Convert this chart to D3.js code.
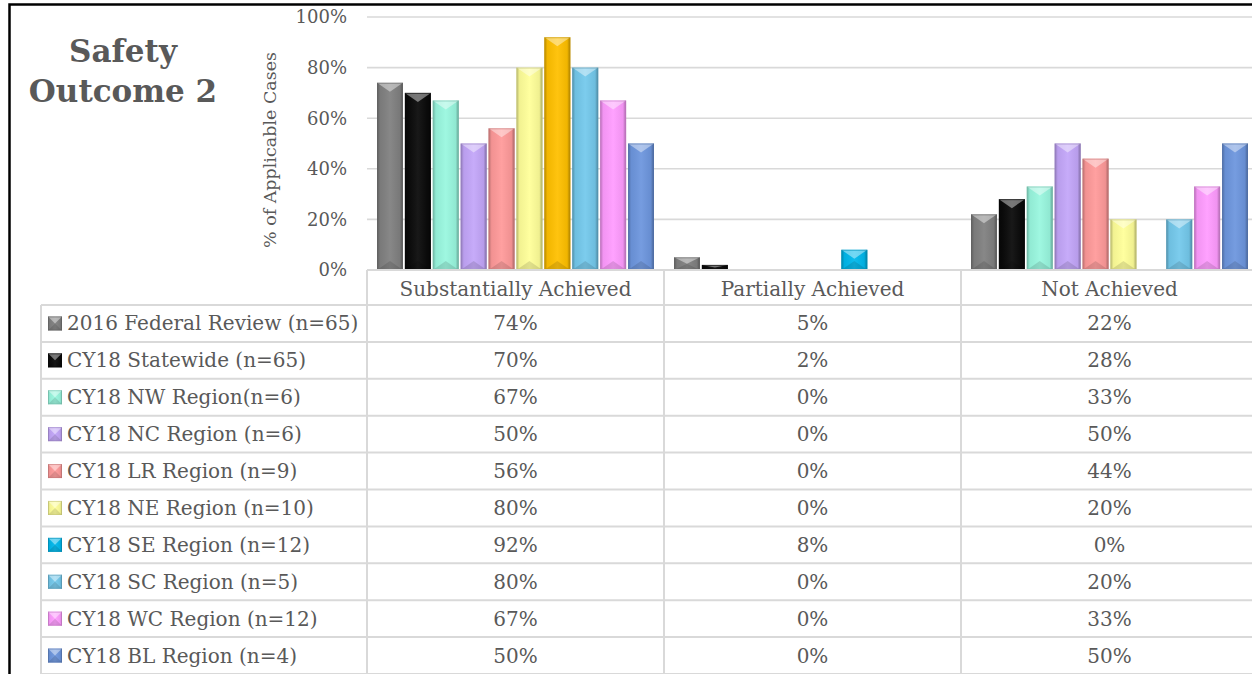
<!DOCTYPE html>
<html><head><meta charset="utf-8">
<script src="https://cdn.jsdelivr.net/npm/d3@7"></script>
<style>
html,body{margin:0;padding:0;background:#fff;}
svg{display:block;}
text{font-family:"DejaVu Serif",Cambria,serif;fill:#595959;}
</style></head>
<body>
<svg id="chart" width="1252" height="674"></svg>
<script>
const categories = ["Substantially Achieved", "Partially Achieved", "Not Achieved"];
const seriesNames = ["2016 Federal Review (n=65)", "CY18 Statewide (n=65)", "CY18 NW Region(n=6)", "CY18 NC Region (n=6)", "CY18 LR Region (n=9)", "CY18 NE Region (n=10)", "CY18 SE Region (n=12)", "CY18 SC Region (n=5)", "CY18 WC Region (n=12)", "CY18 BL Region (n=4)"];
const substantially = [74, 70, 67, 50, 56, 80, 92, 80, 67, 50];
const partially = [5, 2, 0, 0, 0, 0, 8, 0, 0, 0];
const notAchieved = [22, 28, 33, 50, 44, 20, 0, 20, 33, 50];
const seriesColors = ["#808080", "#0a0a0a", "#99f7df", "#c3a6f9", "#ff9a9a", "#ffff99", "#00b8ec", "#74c9ec", "#ff9cff", "#6d96de"];
// point override: SE bar in "Substantially Achieved" is gold
const pointOverrides = [{series: 6, category: 0, color: "#ffc000"}];
const yTicks = [0, 20, 40, 60, 80, 100];
const title = ["Safety", "Outcome 2"];
const yTitle = "% of Applicable Cases";

const valuesByCat = [substantially, partially, notAchieved];

const svg = d3.select("#chart");
const plotLeft = 367, plotRight = 1258, plotTop = 17, plotBottom = 270;
const tableTop = 305, rowH = 36.9;

const x0 = d3.scaleBand().domain(categories).range([plotLeft, plotRight]).padding(0);
const x1 = d3.scaleBand().domain(seriesNames).range([10, x0.bandwidth() - 10]).paddingInner(0.07).paddingOuter(0);
const y = d3.scaleLinear().domain([0, 100]).range([plotBottom, plotTop]);
const rowY = d3.scaleBand().domain(seriesNames).range([tableTop, tableTop + rowH * seriesNames.length]);

const defs = svg.append("defs");
const shade = defs.append("linearGradient").attr("id", "shade").attr("x1", 0).attr("x2", 1).attr("y1", 0).attr("y2", 0);
shade.append("stop").attr("offset", 0).attr("stop-color", "#000").attr("stop-opacity", 0.28);
shade.append("stop").attr("offset", 0.12).attr("stop-color", "#000").attr("stop-opacity", 0.05);
shade.append("stop").attr("offset", 0.5).attr("stop-color", "#fff").attr("stop-opacity", 0.06);
shade.append("stop").attr("offset", 0.88).attr("stop-color", "#000").attr("stop-opacity", 0.06);
shade.append("stop").attr("offset", 1).attr("stop-color", "#000").attr("stop-opacity", 0.35);

function bevel(g, x, yTop, w, h, color) {
  if (h <= 0) return;
  const c = d3.color(color);
  g.append("rect").attr("x", x).attr("y", yTop).attr("width", w).attr("height", h)
    .attr("fill", color);
  g.append("rect").attr("x", x).attr("y", yTop).attr("width", w).attr("height", h)
    .attr("fill", "url(#shade)");
  const th = Math.min(9, h / 2);
  const xm = x + w / 2;
  g.append("polygon").attr("points", `${x},${yTop} ${x + w},${yTop} ${xm},${yTop + th}`)
    .attr("fill", "#fff").attr("fill-opacity", 0.42);
  g.append("polygon").attr("points", `${x},${yTop + h} ${x + w},${yTop + h} ${xm},${yTop + h - th}`)
    .attr("fill", "#000").attr("fill-opacity", 0.12);
  g.append("rect").attr("x", x + 0.5).attr("y", yTop + 0.5).attr("width", w - 1).attr("height", h - 1)
    .attr("fill", "none").attr("stroke", c.darker(0.7)).attr("stroke-opacity", 0.6).attr("stroke-width", 1);
}

// gridlines
svg.append("g").selectAll("line").data(yTicks.filter(d => d > 0)).join("line")
  .attr("x1", plotLeft).attr("x2", plotRight)
  .attr("y1", d => y(d)).attr("y2", d => y(d))
  .attr("stroke", "#d9d9d9").attr("stroke-width", 1.6);

// y axis tick labels
svg.append("g").selectAll("text").data(yTicks).join("text")
  .attr("x", 347).attr("y", d => y(d)).attr("dy", "0.35em")
  .attr("text-anchor", "end").style("font-size", "18px")
  .text(d => d + "%");

// y title
svg.append("text").attr("transform", `translate(276,150) rotate(-90)`)
  .attr("text-anchor", "middle").style("font-size", "17.5px").text(yTitle);

// title
svg.append("g").selectAll("text").data(title).join("text")
  .attr("x", 123).attr("y", (d, i) => 62 + i * 40)
  .attr("text-anchor", "middle").style("font-size", "31px").style("font-weight", "bold")
  .text(d => d);

// bars
const barsG = svg.append("g");
categories.forEach((cat, ci) => {
  seriesNames.forEach((s, si) => {
    const v = valuesByCat[ci][si];
    const ov = pointOverrides.find(o => o.series === si && o.category === ci);
    const color = ov ? ov.color : seriesColors[si];
    const bx = x0(cat) + x1(s);
    bevel(barsG, bx, y(v), x1.bandwidth(), y(0) - y(v), color);
  });
});

// table
const grid = "#d9d9d9";
const tableG = svg.append("g");
const tableLeft = 41;
tableG.append("line").attr("x1", plotLeft).attr("x2", 1260).attr("y1", plotBottom).attr("y2", plotBottom)
  .attr("stroke", grid).attr("stroke-width", 2);
const hLines = d3.range(seriesNames.length + 1).map(i => tableTop + i * rowH);
tableG.selectAll("line.h").data(hLines).join("line").attr("class", "h")
  .attr("x1", tableLeft).attr("x2", 1260).attr("y1", d => d).attr("y2", d => d)
  .attr("stroke", grid).attr("stroke-width", 2);
const colEdges = categories.map(c => x0(c));
tableG.selectAll("line.v").data(colEdges).join("line").attr("class", "v")
  .attr("x1", d => d).attr("x2", d => d).attr("y1", plotBottom).attr("y2", 674)
  .attr("stroke", grid).attr("stroke-width", 2);
tableG.append("line").attr("x1", tableLeft).attr("x2", tableLeft).attr("y1", tableTop).attr("y2", 674)
  .attr("stroke", grid).attr("stroke-width", 2);

// header labels
tableG.selectAll("text.cat").data(categories).join("text").attr("class", "cat")
  .attr("x", d => x0(d) + x0.bandwidth() / 2).attr("y", (plotBottom + tableTop) / 2 + 1).attr("dy", "0.35em")
  .attr("text-anchor", "middle").style("font-size", "20px").text(d => d);

// row labels with legend keys
seriesNames.forEach((s, si) => {
  const cy = rowY(s) + rowY.bandwidth() / 2;
  bevel(tableG, 48, cy - 7, 14, 14, seriesColors[si]);
  tableG.append("text").attr("x", 67).attr("y", cy).attr("dy", "0.35em")
    .style("font-size", "20px").text(s);
  categories.forEach((c, ci) => {
    tableG.append("text").attr("x", x0(c) + x0.bandwidth() / 2).attr("y", cy).attr("dy", "0.35em")
      .attr("text-anchor", "middle").style("font-size", "20px").text(valuesByCat[ci][si] + "%");
  });
});

// outer black border (left and top)
svg.append("path").attr("d", `M9.5,674 L9.5,4.5 L1252,4.5`)
  .attr("fill", "none").attr("stroke", "#000").attr("stroke-width", 2.5);
</script>
</body></html>
